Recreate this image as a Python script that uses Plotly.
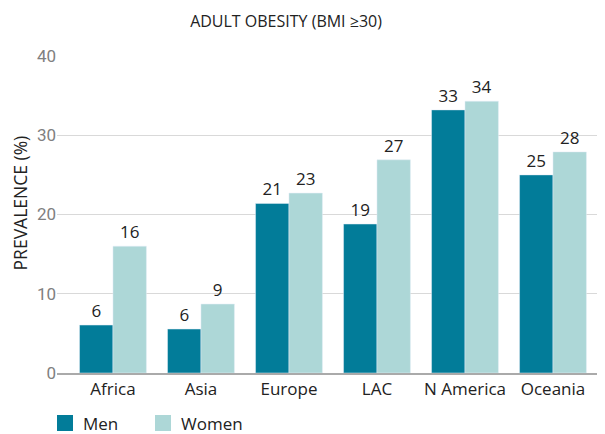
import plotly.graph_objects as go

categories = ["Africa", "Asia", "Europe", "LAC", "N America", "Oceania"]
men = [6.05, 5.55, 21.4, 18.8, 33.2, 25.0]
women = [16.0, 8.7, 22.7, 26.9, 34.3, 27.9]
men_labels = ["6", "6", "21", "19", "33", "25"]
women_labels = ["16", "9", "23", "27", "34", "28"]
y_ticks = [0, 10, 20, 30, 40]
series_names = ["Men", "Women"]
series_colors = ["#027c99", "#add7d7"]

FONT = "'Open Sans', sans-serif"
TXT = "#222222"

fig = go.Figure()
for name, vals, labels, color in zip(series_names, [men, women],
                                     [men_labels, women_labels], series_colors):
    fig.add_trace(go.Bar(
        x=categories, y=vals, name=name, marker_color=color,
        text=labels, textposition="outside", cliponaxis=False,
        textfont=dict(size=17, color=TXT, family=FONT),
        showlegend=False,
    ))

# custom legend (larger swatches, as in the reference)
shapes = []
annotations = []
legend_x = [0.0, 0.1788]
for name, color, lx in zip(series_names, series_colors, legend_x):
    shapes.append(dict(type="rect", xref="paper", yref="paper",
                       x0=lx, x1=lx + 0.0292, y0=-0.183, y1=-0.1325,
                       fillcolor=color, line=dict(width=0)))
    annotations.append(dict(text=name, xref="paper", yref="paper",
                            x=lx + 0.0438, y=-0.158, xanchor="left", yanchor="middle",
                            showarrow=False,
                            font=dict(size=17, color=TXT, family=FONT)))

annotations.append(dict(text="PREVALENCE (%)", xref="paper", yref="paper",
                        x=-0.0675, y=0.535, xanchor="center", yanchor="middle",
                        textangle=-90, showarrow=False,
                        font=dict(size=17.5, color=TXT, family=FONT)))

fig.update_layout(
    width=597, height=426,
    margin=dict(l=49, r=0, t=48, b=61, autoexpand=False),
    paper_bgcolor="white", plot_bgcolor="white",
    barmode="group", bargap=0.24, bargroupgap=0,
    font=dict(family=FONT, color=TXT),
    title=dict(text="ADULT OBESITY (BMI ≥30)", x=0.4657, xanchor="center",
               y=0.968, yanchor="middle",
               font=dict(size=16, color=TXT, family=FONT)),
    shapes=shapes,
    annotations=annotations,
    showlegend=False,
)
fig.update_xaxes(
    range=[-0.636, 5.591], showgrid=False, showline=True, automargin=False,
    linecolor="#aaaaaa", linewidth=1.5, ticks="",
    tickfont=dict(size=17, color=TXT, family=FONT),
)
fig.update_yaxes(
    range=[0, 40], tickvals=y_ticks, showgrid=True, gridcolor="#d9d9d9",
    gridwidth=1, zeroline=False, ticks="", ticklen=0, automargin=False,
    tickfont=dict(size=17, color="#808080",
                  family="'Liberation Sans Narrow', 'Roboto', sans-serif"),
)
fig.write_html("out.html")
